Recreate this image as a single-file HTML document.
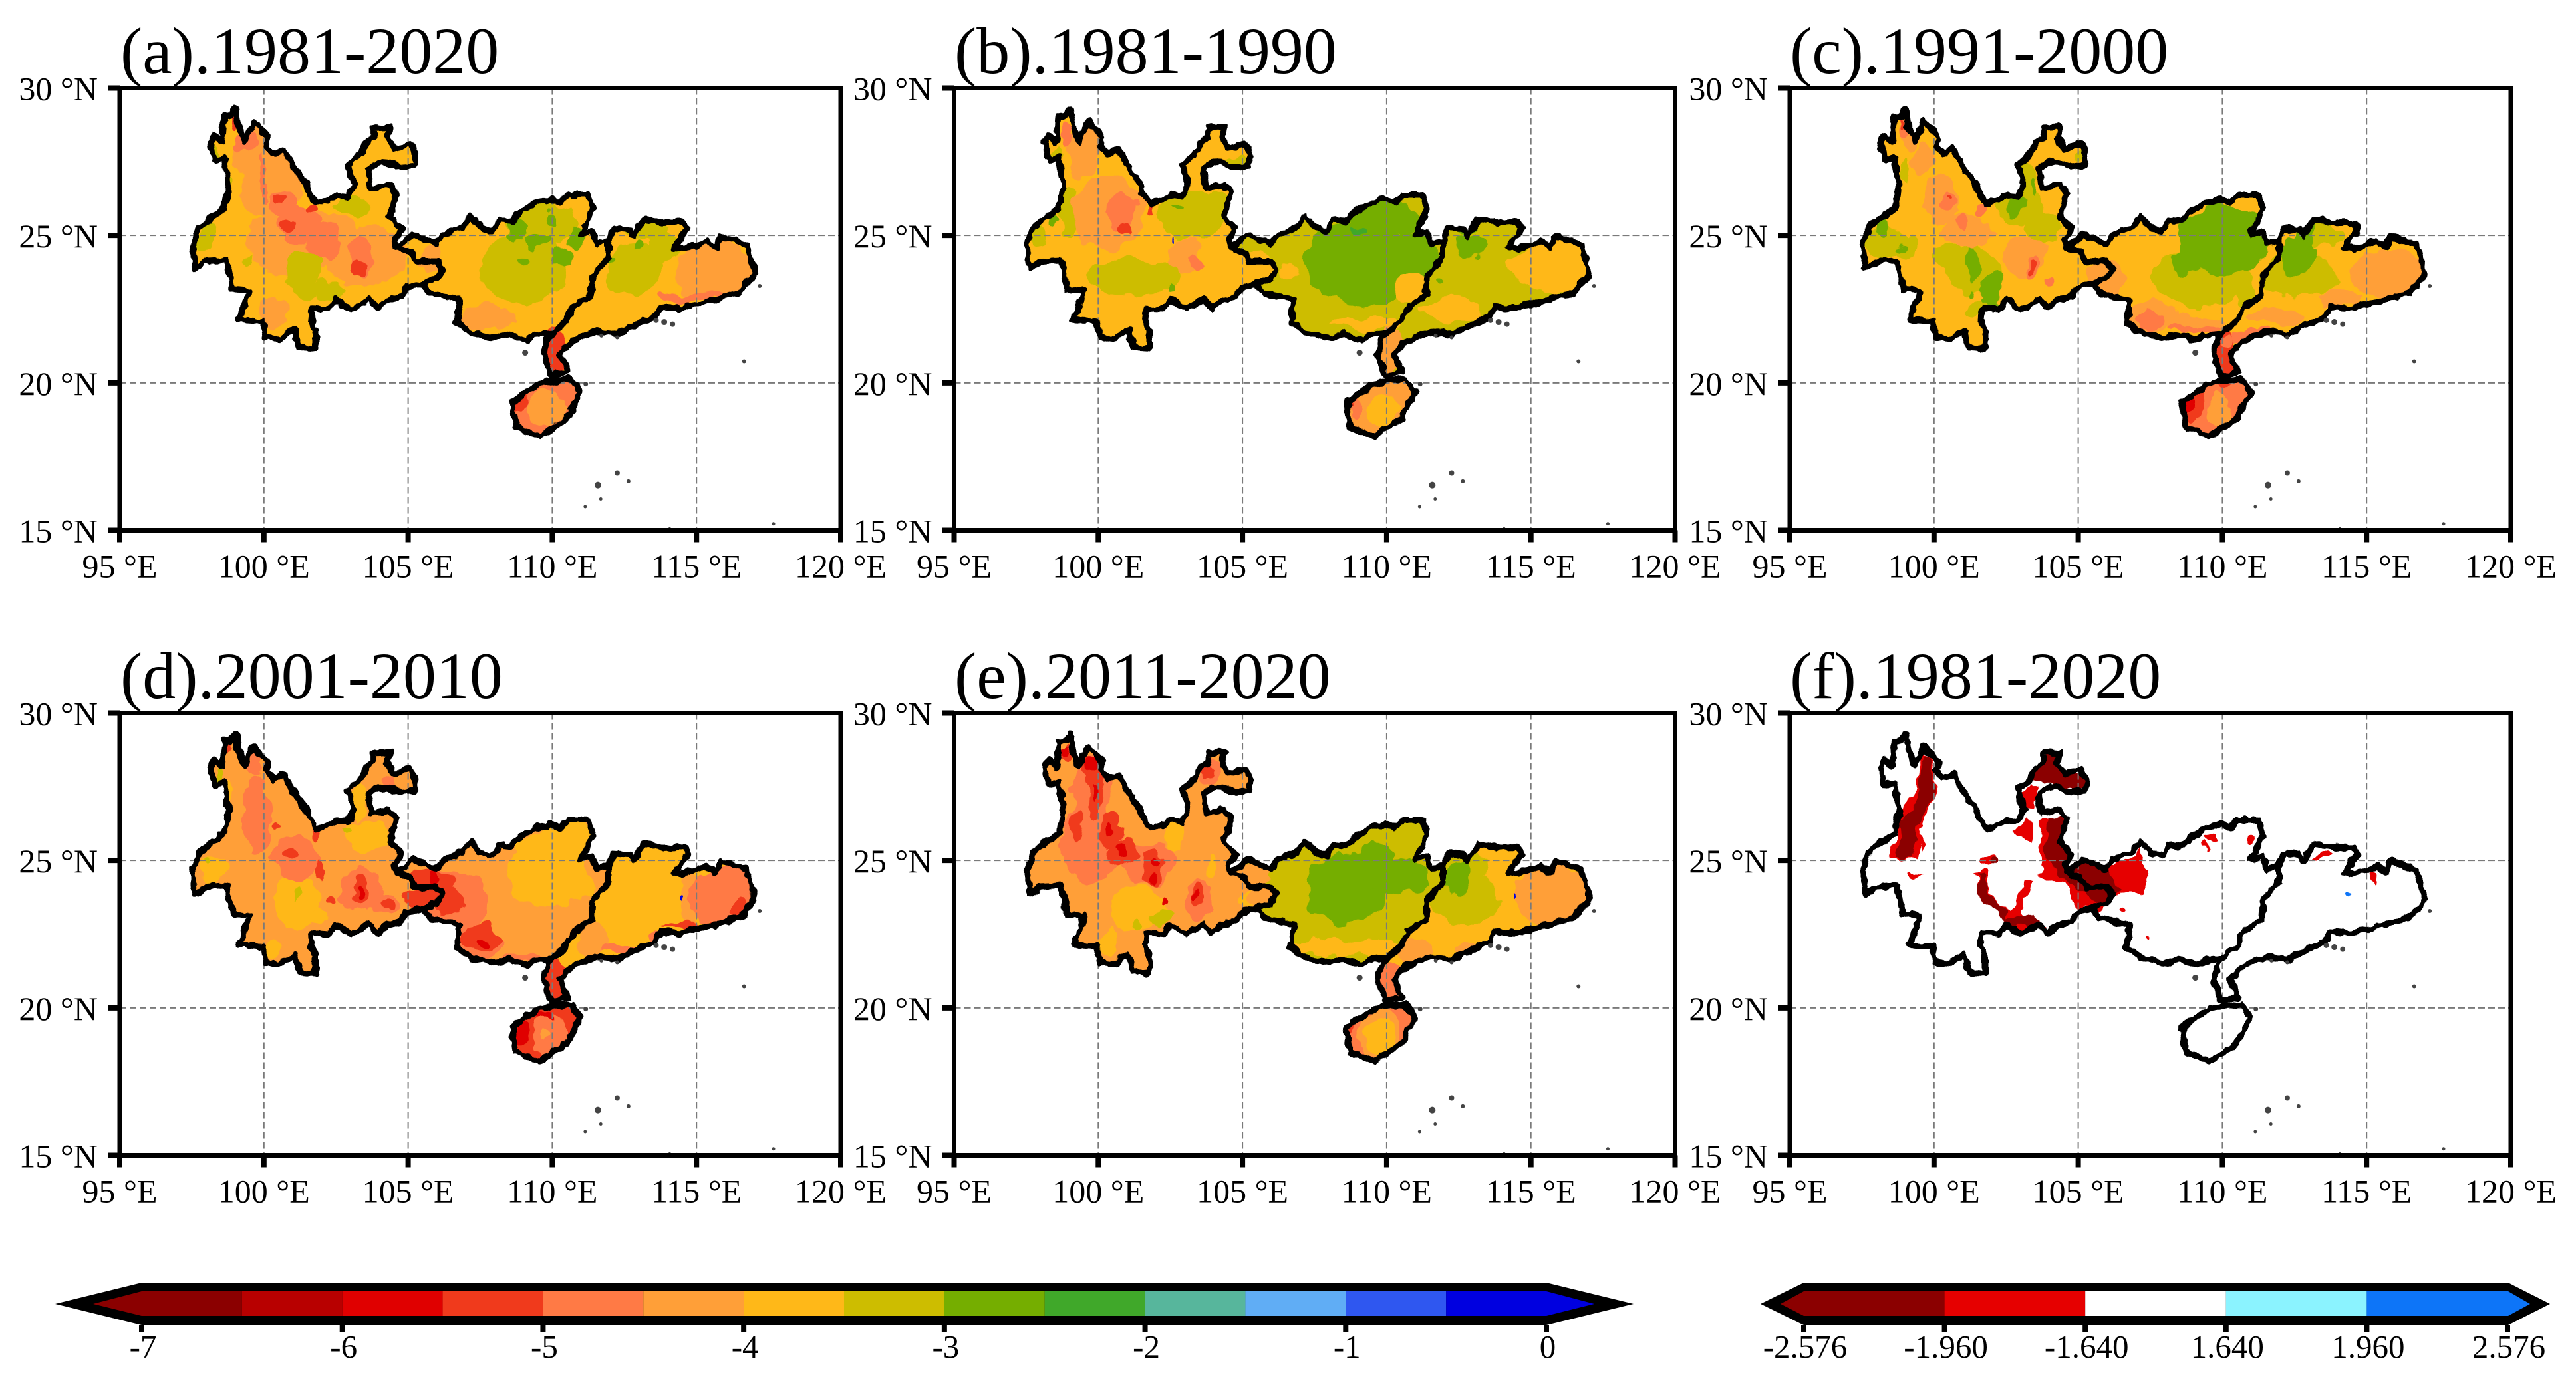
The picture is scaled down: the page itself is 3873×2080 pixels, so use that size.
<!DOCTYPE html>
<html lang="en">
<head>
<meta charset="utf-8">
<title>Six-panel map of the 1981-2020 index over south-west and south China</title>
<style>
html,body{margin:0;padding:0;background:#fff;}
svg{display:block;}
text{font-family:"Liberation Serif","Noto Serif CJK SC",serif;fill:#000;}
.title{font-size:100px;}
.tick{font-size:50px;}
.cbtick{font-size:49px;}
</style>
</head>
<body>
<svg id="figure" xmlns="http://www.w3.org/2000/svg" width="3873" height="2080" viewBox="0 0 3873 2080">
  <defs>
    <filter id="wobble" color-interpolation-filters="sRGB">
      <feTurbulence type="fractalNoise" baseFrequency="0.028" numOctaves="3" seed="4" result="n"/>
      <feDisplacementMap in="SourceGraphic" in2="n" scale="30" xChannelSelector="R" yChannelSelector="G"/>
    </filter>
    <filter id="crinkle" color-interpolation-filters="sRGB">
      <feTurbulence type="fractalNoise" baseFrequency="0.07" numOctaves="2" seed="9" result="n"/>
      <feDisplacementMap in="SourceGraphic" in2="n" scale="10" xChannelSelector="R" yChannelSelector="G"/>
    </filter>
  </defs>
  <rect width="3873" height="2080" fill="#fff"/>

  <g id="panel-a"></g>
  <g id="panel-b"></g>
  <g id="panel-c"></g>
  <g id="panel-d"></g>
  <g id="panel-e"></g>
  <g id="panel-f"></g>

  <text class="title" x="181" y="110">(a).1981-2020</text>
  <text class="title" x="1435" y="110">(b).1981-1990</text>
  <text class="title" x="2691" y="110">(c).1991-2000</text>
  <text class="title" x="181" y="1050">(d).2001-2010</text>
  <text class="title" x="1435" y="1050">(e).2011-2020</text>
  <text class="title" x="2691" y="1050">(f).1981-2020</text>

  <g id="colorbar-main"></g>
  <g id="colorbar-z"></g>
</svg>

<script>
// ---------- axis categories ----------
const lonTicks = [95, 100, 105, 110, 115, 120];
const latTicks = [30, 25, 20, 15];
const lonGrid = [100, 105, 110, 115];
const latGrid = [25, 20];

// ---------- colour scales ----------
const levelBounds = [-6.5, -6, -5.5, -5, -4.5, -4, -3.5, -3, -2.5, -2, -1.5, -1, -0.5];
const levelColors = ['#8b0000', '#b80000', '#e00000', '#f03a1c', '#ff7a45', '#ff9f38', '#ffb818', '#cdbd00', '#75ae00', '#40a82a', '#57b69c', '#60adf5', '#2f57f0', '#0000e0'];
const mainTickValues = [-7, -6, -5, -4, -3, -2, -1, 0];
const zBounds = [-1.96, -1.64, 1.64, 1.96];
const zColors = ['#8b0000', '#e60000', '#ffffff', '#8bf3ff', '#0d75f8'];
const zTickLabels = ['-2.576', '-1.960', '-1.640', '1.640', '1.960', '2.576'];

// ---------- province outlines, [lon, lat] ----------
const yunnanNorth = [[99.03,29.30],[99.11,28.74],[99.32,28.20],[99.64,28.87],[100.16,28.33],[100.08,28.05],[100.32,27.77],[100.69,27.93],[101.13,27.17],[101.45,26.76],[101.53,26.48],[101.83,26.08],[102.18,26.20],[102.50,26.36],[102.91,26.32],[103.12,26.76],[102.91,27.41],[103.31,27.73],[103.55,28.17],[103.80,28.33],[103.80,28.66],[104.39,28.68],[104.28,28.33],[104.52,27.93],[105.09,28.13],[105.28,27.73],[105.22,27.37],[104.77,27.33],[104.28,27.47],[103.96,27.49],[103.63,27.25],[103.72,26.60],[104.36,26.72],[104.60,26.44],[104.36,25.64],[104.77,25.23],[104.52,24.83],[104.60,24.59]];
const borderYunnanGuangxi = [[104.60,24.59],[105.09,24.43],[105.25,24.11],[105.98,24.11],[106.19,23.86],[105.98,23.54],[105.49,23.38]];
const yunnanSouth = [[104.93,23.22],[104.77,22.94],[104.28,22.82],[103.96,22.54],[103.63,22.86],[103.31,22.62],[103.02,22.50],[102.50,22.82],[102.26,22.50],[101.66,22.54],[101.62,22.13],[101.78,21.77],[101.78,21.17],[101.21,21.21],[101.05,21.81],[100.57,21.49],[100.08,21.53],[99.95,22.09],[99.14,22.13],[99.52,23.14],[98.92,23.18],[98.71,24.15],[97.98,24.11],[97.63,23.86],[97.53,24.67],[97.74,25.27],[98.22,25.64],[98.63,25.92],[98.79,26.68],[98.63,27.65],[98.30,27.53],[98.14,28.17],[98.27,28.41],[98.55,28.17],[98.63,29.06],[98.87,29.06]];
const guangxiNorth = [[104.60,24.59],[104.77,24.71],[105.17,25.03],[105.98,24.71],[106.22,25.03],[106.87,25.27],[107.16,25.65],[107.51,25.27],[107.92,25.15],[108.16,25.52],[108.56,25.48],[108.97,25.84],[109.37,26.08],[109.94,26.24],[110.26,26.12],[110.55,26.38],[111.23,26.38],[111.42,25.88],[110.98,25.03],[111.39,25.15],[111.55,24.71],[111.95,24.83]];
const borderGuangxiGuangdong = [[111.95,24.83],[111.95,24.27],[111.39,23.62],[111.36,22.98],[110.74,22.58],[110.50,22.13],[110.02,21.69]];
const guangxiSouth = [[109.37,21.61],[109.13,21.45],[108.48,21.65],[108.08,21.53],[107.27,21.65],[106.67,22.05],[106.79,22.82],[105.73,23.06]];
const guangdongCoast = [[112.12,25.23],[112.68,25.19],[112.81,25.00],[113.17,25.56],[113.81,25.43],[114.54,25.46],[114.70,25.23],[114.22,24.59],[114.54,24.55],[115.35,24.81],[115.67,24.59],[115.83,24.98],[116.72,24.71],[117.04,23.70],[116.48,23.06],[115.59,22.82],[114.46,22.54],[113.73,22.58],[113.57,22.25],[113.00,22.01],[112.28,21.65],[111.55,21.73],[110.74,21.45],[110.26,20.97],[110.55,20.36],[109.94,20.24],[109.69,20.97],[109.85,21.53]];
const hainanOutline = [[110.66,20.12],[110.98,19.68],[110.50,18.79],[109.94,18.43],[109.58,18.19],[108.72,18.51],[108.61,19.35],[109.53,19.96],[110.10,20.08]];
const islandSpecks = [[112.25,16.94,4],[111.58,16.53,5],[112.64,16.66,3],[111.68,16.06,2.5],[111.14,15.80,2.5],[117.67,15.22,2.5],[114.07,15.06,2],[116.65,20.73,3],[111.16,19.96,3.5],[109.06,21.02,4.5],[113.60,22.12,4],[113.88,22.06,4.5],[114.17,21.99,4],[117.19,23.29,3],[112.25,21.54,3],[111.70,21.60,3]];

// ---------- panel values: province base [Yunnan, Guangxi, Guangdong, Hainan] ----------
const baseA = [-3.75, -3.75, -3.75, -4.75];
const baseB = [-3.75, -3.25, -3.25, -4.25];
const baseC = [-3.75, -3.75, -3.75, -4.75];
const baseD = [-4.25, -4.25, -3.75, -5.25];
const baseE = [-4.25, -3.25, -3.75, -4.75];
const baseF = [0, 0, 0, 0];

// ---------- contour blobs: [value, lon, lat, lonRadius, latRadius] ----------
const blobsA = [
[-4.25,100.2,27.4,1.2,1.8],[-4.25,101.3,24.8,2,1.1],[-4.25,103.5,24.3,1.5,1],[-4.25,100.3,22.4,.5,.6],
[-3.25,101.35,23.7,.6,.8],[-3.25,98,24.9,.3,.4],[-3.25,102.3,23.2,.6,.2],[-3.25,103.1,26,.6,.4],[-3.25,98.3,27.8,.15,.35],[-3.25,99.4,24.1,.2,.2],[-3.25,98.8,26.5,.12,.5],
[-4.75,100.6,26.1,.5,.4],[-4.75,101.2,25.4,.7,.6],[-4.75,102.1,24.7,.6,.6],[-4.75,103.4,24.3,.35,.7],[-4.75,99.4,28.2,.4,.4],[-4.75,100,27,.15,.8],
[-5.25,100.9,25.3,.3,.25],[-5.25,103.3,23.9,.25,.3],[-5.25,100.5,26.2,.2,.2],[-5.25,101.7,25.9,.2,.15],[-5.25,98.9,28.9,.15,.3],
[-4.25,107.7,22.2,1,.4],[-4.25,105.8,24.2,.5,.5],
[-3.25,109,23.9,1.5,1.2],[-3.25,109.6,25.4,1.3,.7],
[-2.75,108.8,25.2,.4,.3],[-2.75,109.5,24.85,.4,.25],[-2.75,110.3,24.3,.4,.4],[-2.75,110,25.6,.2,.2],[-2.75,109,24.1,.15,.15],[-2.75,110.8,24.9,.2,.3],
[-4.25,115.7,23.9,1.5,1.1],
[-3.25,112.8,23.9,1,.9],[-3.25,113.8,24.7,.5,.6],[-3.25,113.4,25.2,.8,.3],
[-2.75,113,24.7,.15,.2],[-2.75,112,24.3,.2,.1],
[-4.75,115.1,22.9,1.5,.15],
[-5.25,110.05,21,.5,.9],
[-4.25,109.8,19.15,.65,.6],[-5.25,108.9,19.4,.25,.5],[-5.75,108.7,19.3,.1,.35]
];
const blobsB = [
[-3.25,103.35,25.7,1.3,.8],[-3.25,101.25,23.6,1.6,.6],[-3.25,99,25.8,.4,.9],[-3.25,98.6,27.5,.15,.5],[-3.25,104.8,27.6,.3,.2],[-3.25,97.9,25,.3,.4],
[-4.25,100.35,25.8,1.2,1.3],[-4.25,99.5,27.9,.6,.9],[-4.25,103,24.3,.6,.6],
[-4.75,100.7,25.8,.6,.6],[-4.75,98.9,28.4,.2,.4],[-4.75,103.4,24,.25,.3],
[-5.25,100.95,25.3,.25,.25],[-5.25,101.85,25.9,.1,.1],
[-2.75,102.8,26,.2,.1],[-2.75,102.5,23.2,.1,.2],[-2.75,98.4,25.6,.15,.2],
[-0.25,102.67,24.93,.05,.05],
[-2.75,109,24,1.9,1.4],[-2.75,110,25.55,1.2,.6],[-2.75,110.9,24.3,.9,.8],
[-3.75,110.8,23.25,.6,.5],[-3.75,106.5,23.8,.3,.3],[-3.75,105.5,24.3,.5,.3],[-3.75,109.2,22,1.2,.2],
[-2.25,109,25.15,.2,.1],
[-3.75,115.7,24,1.4,.9],[-3.75,112.2,22.5,1,.4],
[-2.75,112.9,24.6,.5,.4],[-2.75,111.9,23.5,.15,.15],[-2.75,112.9,25.2,.3,.15],
[-4.25,110.15,21,.5,.9],
[-3.75,109.9,19.05,.55,.5],[-4.75,108.9,19.25,.3,.5],[-5.25,108.75,19.4,.1,.25]
];
const blobsC = [
[-3.25,103,26.04,.9,.6],[-3.25,101.37,23.8,.9,.8],[-3.25,98.3,24.8,.7,.5],[-3.25,99,24.6,.4,.4],[-3.25,103.8,25.3,.6,.5],[-3.25,105.1,27.7,.2,.2],[-3.25,103.2,27,.25,.5],[-3.25,100.4,24.3,.5,.4],[-3.25,101.6,22.4,.5,.3],[-3.25,99,27.2,.15,.6],
[-2.75,102.83,26.04,.45,.3],[-2.75,103.4,26.6,.1,.3],[-2.75,101.3,24,.2,.6],[-2.75,102,23.2,.35,.5],[-2.75,98.2,25.2,.25,.3],[-2.75,98.8,24.6,.15,.15],[-2.75,102,22.7,.25,.1],[-2.75,101.4,22.95,.12,.12],
[-4.25,100.25,26.2,.6,.9],[-4.25,101.2,25.1,.9,.6],[-4.25,103.15,24.3,.7,.7],[-4.25,99.6,27.6,.4,.6],[-4.25,99.1,28.4,.25,.4],
[-4.75,100.55,26.2,.25,.3],[-4.75,101,25.3,.25,.35],[-4.75,101.7,25.85,.3,.2],[-4.75,103.4,23.9,.25,.4],[-4.75,98.9,28.7,.15,.35],[-4.75,104.1,23.5,.2,.15],
[-5.25,103.35,23.9,.12,.22],[-5.25,100.53,26.3,.1,.08],[-5.25,98.87,28.8,.08,.2],
[-3.25,109.3,23.6,1.7,1],[-3.25,110.7,23,.3,.5],
[-2.75,110.1,24.9,1.6,1.2],[-2.75,108.8,24.1,.6,.4],
[-4.25,107.4,22.2,1,.5],[-4.25,106,23.6,.7,.6],[-4.25,109,22,1,.3],
[-4.75,107.5,22.1,.5,.3],[-4.75,109,21.8,.8,.12],
[-3.25,112.7,23.6,1.4,.7],[-3.25,113.3,25.1,.8,.5],
[-2.75,112.6,24.4,.55,.75],[-2.75,113,25.1,.3,.35],
[-4.25,115.9,23.6,1.4,.9],[-4.25,111.9,22.2,1,.3],[-4.25,114.1,22.8,.8,.3],
[-4.75,110.9,21.6,.7,.2],[-5.25,110.1,20.8,.45,1],[-4.75,110.2,21.5,.2,.2],
[-4.25,109.93,19.03,.4,.6],[-5.25,109.05,19.3,.3,.7],[-5.75,108.8,19.3,.12,.4]
];
const blobsD = [
[-3.75,103.3,27,.3,.6],[-3.75,103.45,25.85,.8,.5],[-3.75,101.1,23.6,.8,.9],[-3.75,101.95,23.1,.3,.3],[-3.75,98.2,24.7,.5,.4],[-3.75,98.75,27,.1,.6],[-3.75,100.25,22,.3,.4],
[-4.75,99.75,26.55,.5,1.3],[-4.75,101.1,25.05,.9,.7],[-4.75,103.3,24,.8,.7],[-4.75,99.6,28.25,.3,.4],[-4.75,104.35,27.7,.2,.2],[-4.75,104.1,23.6,.5,.35],
[-5.25,100.95,25.2,.3,.25],[-5.25,100.5,26.2,.15,.15],[-5.25,101.85,25.85,.15,.2],[-5.25,103.3,24,.25,.45],[-5.25,101.95,24.7,.15,.35],[-5.25,102.3,23.7,.15,.2],[-5.25,104.25,23.6,.2,.2],[-5.25,98.8,28.7,.12,.25],
[-5.75,103.3,23.95,.12,.2],
[-3.25,101.2,23.9,.1,.3],[-3.25,102.8,26,.25,.1],[-3.25,98,24.95,.1,.1],[-3.25,98.4,27.85,.1,.25],
[-3.75,109.8,24.6,1.4,1.2],[-3.75,110.5,25.7,.9,.7],[-3.75,110.9,24.15,.5,.5],
[-4.75,107.2,22.2,1.1,.6],[-4.75,106.6,23.6,1.2,1.1],[-4.75,109.2,21.6,1,.15],
[-5.25,105.85,24.25,.9,.4],[-5.25,105.5,23.7,.7,.25],[-5.25,106.5,23.6,.5,.5],[-5.25,107.55,22.4,.7,.4],
[-5.75,106,24.35,.2,.25],[-5.75,107.7,22.25,.15,.15],
[-4.25,111.4,22.4,.6,.6],[-4.25,114.8,23.7,.4,.9],
[-4.75,116,23.8,1.3,1],[-4.75,112.45,22,.8,.2],[-4.75,113.7,22.4,.5,.2],
[-5.25,116.5,23.35,.3,.3],[-5.25,114.8,22.8,1,.1],[-5.25,110.1,20.8,.5,1],
[-0.25,114.45,23.82,.05,.1],
[-4.75,109.9,19.1,.6,.75],[-4.25,109.8,19.1,.15,.2],[-5.75,108.9,19.2,.2,.5],[-5.75,109.6,19.8,.4,.1]
];
const blobsE = [
[-3.75,101.35,23.35,1,.8],[-3.75,102.65,25.75,.3,.5],[-3.75,103.9,24.8,.2,.4],[-3.75,100.4,22.3,.3,.5],[-3.75,105.2,23.7,.3,.3],
[-3.25,101.35,22.85,.15,.3],[-3.25,102.15,23,.35,.2],
[-4.75,99.75,25.6,1,1.4],[-4.75,99.75,27.2,.7,1.5],[-4.75,101.7,24.9,1,.7],[-4.75,103.45,23.75,.5,.7],[-4.75,103.8,28,.3,.5],
[-5.25,99.85,27.35,.3,1],[-5.25,99.65,28.3,.3,.4],[-5.25,100.45,26,.3,.6],[-5.25,100.95,25.3,.5,.4],[-5.25,101.85,24.8,.4,.6],[-5.25,103.4,23.9,.25,.4],[-5.25,98.95,28.65,.2,.3],[-5.25,99.25,26.15,.2,.5],[-5.25,103.7,28.1,.15,.25],
[-5.75,98.85,28.7,.12,.15],[-5.75,99.75,28.35,.2,.3],[-5.75,99.85,27.3,.1,.3],[-5.75,100.85,25.35,.2,.2],[-5.75,102,24.95,.15,.15],[-5.75,101.85,24.4,.1,.15],[-5.75,103.3,23.85,.12,.2],[-5.75,102.3,23.65,.1,.2],[-5.75,100.5,26.15,.1,.2],
[-3.75,108.5,22.05,2,.3],[-4.25,105.25,24.5,.6,.4],[-4.25,105.7,23.8,.5,.4],
[-2.75,108.6,24.05,1.4,1.2],[-2.75,110.4,24.45,1.1,.6],[-2.75,109.7,25.2,.5,.4],
[-3.25,112.65,23.7,1.2,.9],[-3.25,112.65,24.9,.7,.6],[-2.75,112.5,24.4,.45,.6],
[-4.25,115.75,23.75,1.3,1.1],[-4.25,111,21.8,.6,.5],[-4.25,112.9,22,.5,.2],
[-4.75,110.1,20.8,.4,.9],
[-0.25,114.45,23.83,.05,.1],
[-4.25,109.75,19.1,.7,.85],[-3.75,109.75,19,.45,.6],[-5.25,108.7,19.4,.1,.4]
];
const blobsF = [
[-1.8,99.5,25.5,.1,.25],[-1.8,99.4,24.6,.25,.1],[-1.8,101.89,25.06,.3,.2],[-2.8,102.08,24.97,.15,.15],
[-1.8,109.65,25.71,.2,.15],[-1.8,110.95,25.71,.2,.15],[-1.8,113.48,25.23,.35,.1],[-1.8,115.25,24.48,.1,.2],[-1.8,107.5,22.35,.08,.06],[-1.8,106.56,23.19,.15,.1],[-1.8,109.46,25.41,.05,.1],
[2.8,114.47,23.81,.1,.1],[1.8,108.77,19.28,.06,.1]
];

// ---------- significance regions in panel f ----------
const regionF1 = [[99.61,28.73],[100.02,28.49],[100.17,27.46],[99.64,26.16],[99.27,25],[98.43,25.13],[98.75,26.16],[98.9,26.81],[99.36,27.46]];
const regionF2 = [[99.68,28.62],[99.93,28.49],[100.11,27.46],[99.64,26.42],[99.08,25.06],[98.67,25.13],[98.9,26.16],[99.36,27.2]];
const regionF3 = [[103.85,28.62],[104.32,28.62],[104.41,27.98],[105.25,28.04],[105.25,27.39],[104.5,27.39],[103.94,27.52],[103.48,27.85],[103.57,28.23]];
const regionF4 = [[103.01,27.46],[103.57,27.59],[103.48,26.81],[103.01,26.75]];
const regionF5 = [[103.2,26.42],[103.38,26.29],[103.29,25.52],[102.73,25.91]];
const regionF6 = [[103.76,26.42],[104.6,26.55],[104.79,25.26],[104.6,24.61],[105.25,24.94],[106.19,24.74],[106.93,25.13],[107.21,25.52],[107.31,24.87],[107.59,24.61],[107.31,23.97],[106.84,23.84],[106.19,23.84],[106,23.45],[105.72,23.12],[104.88,23.71],[104.5,24.22],[103.76,24.29],[103.66,25.39]];
const regionF7 = [[103.94,26.49],[104.6,26.49],[104.69,25.26],[104.6,24.55],[105.07,24.94],[105.81,24.74],[106.65,23.97],[106.19,23.84],[106.09,23.51],[105.63,23.58],[104.88,24.09],[104.32,24.48],[103.85,25.13]];
const regionF8 = [[101.33,24.61],[101.7,24.74],[101.89,23.97],[102.54,23.32],[103.38,24.29],[103.57,24.22],[103.01,23.32],[103.94,22.61],[103.01,22.61],[102.45,23.06],[101.89,23.45],[101.51,23.97]];
const regionF9 = [[101.42,24.61],[101.7,24.35],[101.89,23.9],[102.45,23.38],[102.54,23.06],[103.1,23.19],[103.48,23.19],[103.85,22.67],[103.01,22.8],[102.54,22.93],[101.89,23.45],[101.51,23.97]];
const regionF10 = [[102.9,23.38],[103.48,24.22],[103.2,24.29],[102.6,23.3]];

// ---------- layout ----------
const SVGNS = 'http://www.w3.org/2000/svg';
const panelW = 1084;
const panelH = 665;

function node(parent, tag, attrs, text) {
  const el = document.createElementNS(SVGNS, tag);
  for (const k in attrs) el.setAttribute(k, attrs[k]);
  if (text !== undefined) el.textContent = text;
  parent.appendChild(el);
  return el;
}
function levelColor(v) {
  let i = 0;
  while (i < levelBounds.length && v >= levelBounds[i]) i++;
  return levelColors[i];
}
function zColor(v) {
  let i = 0;
  while (i < zBounds.length && v >= zBounds[i]) i++;
  return zColors[i];
}

function drawPanel(id, left, top, base, blobs, regions, colorFor) {
  const root = document.getElementById(id);
  const x = lon => left + (lon - 95) / 25 * panelW;
  const y = lat => top + (30 - lat) / 15 * panelH;
  const toPath = pts => 'M' + pts.map(p => x(p[0]).toFixed(1) + ' ' + y(p[1]).toFixed(1)).join('L') + 'Z';

  const yunnan = yunnanNorth.concat(borderYunnanGuangxi.slice(1), yunnanSouth);
  const guangxi = guangxiNorth.concat(borderGuangxiGuangdong.slice(1), guangxiSouth, borderYunnanGuangxi.slice().reverse());
  const guangdong = [borderGuangxiGuangdong[0]].concat(guangdongCoast, borderGuangxiGuangdong.slice().reverse());
  const provinces = [yunnan, guangxi, guangdong, hainanOutline];
  const provinceNames = ['yunnan', 'guangxi', 'guangdong', 'hainan'];

  const clip = node(root, 'clipPath', {id: id + '-clip'});
  provinces.forEach(p => node(clip, 'path', {d: toPath(p)}));

  const fillGroup = node(root, 'g', {'clip-path': 'url(#' + id + '-clip)'});
  
  
  provinces.forEach((p, i) => {
    const el = node(fillGroup, 'path', {d: toPath(p), fill: colorFor(base[i])});
    
    
  });
  const blobGroup = node(fillGroup, 'g', {filter: 'url(#wobble)'});
  
  
  regions.forEach(r => {
    const el = node(blobGroup, 'path', {d: toPath(r[1]), fill: colorFor(r[0])});
    
    
  });
  blobs.forEach(b => {
    const el = node(blobGroup, 'ellipse', {
      cx: x(b[1]), cy: y(b[2]),
      rx: b[3] / 25 * panelW, ry: b[4] / 15 * panelH,
      fill: colorFor(b[0])
    });
    
    
  });

  lonGrid.forEach(lon => {
    const el = node(root, 'line', {x1: x(lon), x2: x(lon), y1: top, y2: top + panelH, stroke: '#7a7a7a', 'stroke-width': 2, 'stroke-dasharray': '10 5'});
    
    
  });
  latGrid.forEach(lat => {
    const el = node(root, 'line', {x1: left, x2: left + panelW, y1: y(lat), y2: y(lat), stroke: '#7a7a7a', 'stroke-width': 2, 'stroke-dasharray': '10 5'});
    
    
  });

  const outlineGroup = node(root, 'g', {filter: 'url(#crinkle)', fill: 'none', stroke: '#000', 'stroke-width': 9, 'stroke-linejoin': 'round'});
  
  
  provinces.forEach((p, i) => {
    const el = node(outlineGroup, 'path', {d: toPath(p)});
    
    
  });
  islandSpecks.forEach(s => {
    const el = node(root, 'circle', {cx: x(s[0]), cy: y(s[1]), r: s[2], fill: '#444'});
    
    
  });

  const frame = node(root, 'rect', {x: left, y: top, width: panelW, height: panelH, fill: 'none', stroke: '#000', 'stroke-width': 7});
  
  

  lonTicks.forEach(lon => {
    const t = node(root, 'line', {x1: x(lon), x2: x(lon), y1: top + panelH, y2: top + panelH + 18, stroke: '#000', 'stroke-width': 8});
    
    
    const l = node(root, 'text', {class: 'tick', x: x(lon), y: top + panelH + 71, 'text-anchor': 'middle'}, lon + ' °E');
    
    
  });
  latTicks.forEach(lat => {
    const t = node(root, 'line', {x1: left - 18, x2: left, y1: y(lat), y2: y(lat), stroke: '#000', 'stroke-width': 8});
    
    
    const l = node(root, 'text', {class: 'tick', x: left - 33, y: y(lat) + 18, 'text-anchor': 'end'}, lat + ' °N');
    
    
  });
}

drawPanel('panel-a', 180, 132.5, baseA, blobsA, [], levelColor);
drawPanel('panel-b', 1434.5, 132.5, baseB, blobsB, [], levelColor);
drawPanel('panel-c', 2691, 132.5, baseC, blobsC, [], levelColor);
drawPanel('panel-d', 180, 1072.5, baseD, blobsD, [], levelColor);
drawPanel('panel-e', 1434.5, 1072.5, baseE, blobsE, [], levelColor);
drawPanel('panel-f', 2691, 1072.5, baseF, blobsF, [
  [-1.8, regionF1], [-2.8, regionF2], [-2.8, regionF3], [-1.8, regionF4], [-1.8, regionF5],
  [-1.8, regionF6], [-2.8, regionF7], [-1.8, regionF8], [-2.8, regionF9], [-1.8, regionF10]
], zColor);

// ---------- colour bars ----------
function drawBar(id, xStart, xEnd, tipOuterL, tipOuterR, tipInnerL, tipInnerR, colors, edgeX, ticks) {
  const root = document.getElementById(id);
  const top = 1929, bottom = 1993, mid = 1961, innerTop = 1942, innerBottom = 1979;
  const outer = node(root, 'polygon', {points: [tipOuterL, mid, xStart, top, xEnd, top, tipOuterR, mid, xEnd, bottom, xStart, bottom].join(' '), fill: '#000'});
  
  
  colors.forEach((c, i) => {
    const a = edgeX(i), b = edgeX(i + 1);
    let pts;
    if (i === 0) pts = [tipInnerL, mid, xStart, innerTop, b, innerTop, b, innerBottom, xStart, innerBottom];
    else if (i === colors.length - 1) pts = [a, innerTop, xEnd, innerTop, tipInnerR, mid, xEnd, innerBottom, a, innerBottom];
    else pts = [a, innerTop, b, innerTop, b, innerBottom, a, innerBottom];
    const el = node(root, 'polygon', {points: pts.join(' '), fill: c});
    
    
  });
  ticks.forEach(t => {
    const tick = node(root, 'line', {x1: t[0], x2: t[0], y1: bottom, y2: 2004, stroke: '#000', 'stroke-width': 8});
    
    
    const label = node(root, 'text', {class: 'cbtick', x: t[0] + 2, y: 2042, 'text-anchor': 'middle'}, t[1]);
    
    
  });
}

const mainX = v => 213 + (v + 7) / 7 * 2112;
drawBar('colorbar-main', 213, 2325, 83, 2456, 140, 2397, levelColors,
  i => mainX(-7 + i * 0.5),
  mainTickValues.map(v => [mainX(v), String(v)]));

const zX = i => 2712 + i * (3770 - 2712) / 5;
drawBar('colorbar-z', 2712, 3771, 2647, 3834, 2677, 3804, zColors,
  zX,
  zTickLabels.map((s, i) => [zX(i), s]));
</script>
</body>
</html>
